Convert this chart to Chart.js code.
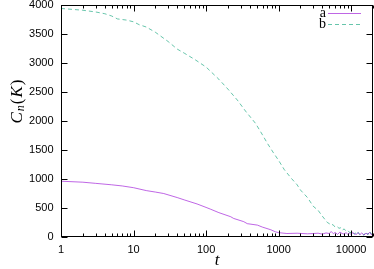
<!DOCTYPE html>
<html>
<head>
<meta charset="utf-8">
<script src="https://cdn.jsdelivr.net/npm/chart.js@4"></script>
<style>
html,body{margin:0;padding:0;background:#fff;}
#wrap{width:374px;height:269px;position:relative;}
</style>
</head>
<body>
<div id="wrap"><canvas id="c" width="374" height="269"></canvas></div>
<script>
// ---- data ----
const seriesNames = ["a", "b"];
const tA = [1,2,3,5,7,10,15,20,26,40,50,75,100,115,150,218,240,330,370,510,600,780,900,1000,1300,1800,2500,3000,3500,4000,4500,5000,5300,5700,6000,6500,7000,7500,8000,8500,9000,9500,10000,10500,11000,11800,12500,13200,14000,15000,16000,17000,18000,19000,20000];
const valuesA = [962,945,925,900,880,850,800,775,750,680,640,570,510,480,420,350,320,265,230,205,170,125,90,75,60,65,55,60,65,50,70,60,95,55,80,45,85,60,50,75,45,70,40,80,55,45,75,40,70,35,65,45,80,40,55];
const tB = [1,2,3,4,5,6,8,10,12,15,20,30,40,50,70,100,150,200,270,350,480,600,700,850,1000,1200,1500,1800,2000,2500,3000,3500,4000,4700,5000,5300,5600,6000,6400,6800,7200,7600,8000,8500,9000,9500,10000,10500,11000,11500,12000,12500,13000,14000,15000,16000,17000,18000,19000,20000];
const valuesB = [3940,3910,3880,3850,3810,3760,3740,3710,3660,3620,3530,3370,3240,3170,3060,2930,2720,2550,2360,2170,1960,1760,1615,1450,1320,1160,1010,900,810,680,530,460,360,250,230,200,215,170,180,150,160,120,140,100,110,80,75,90,50,70,40,80,45,60,30,90,40,100,50,70];
const xTicks = [1,10,100,1000,10000];
const yTicks = [0,500,1000,1500,2000,2500,3000,3500,4000];
const xMin = 1, xMax = 20000, yMin = 0, yMax = 4000;
const colors = ["rgba(148,0,211,0.6)", "rgba(0,158,115,0.6)"];

const pts = (ts, vs) => ts.map((t,i)=>({x:t,y:vs[i]}));

const framePlugin = {
  id: 'frame',
  afterDraw(chart){
    const ctx = chart.ctx, a = chart.chartArea;
    const xs = chart.scales.x, ys = chart.scales.y;
    ctx.save();
    ctx.strokeStyle = '#000';
    ctx.lineWidth = 1;
    const L = Math.round(a.left)+0.5, R = Math.round(a.right)-0.5, T = Math.round(a.top)+0.5, B = Math.round(a.bottom)-0.5;
    ctx.strokeRect(L, T, R-L, B-T);
    ctx.beginPath();
    for (let d = 1; d <= xMax; d *= 10) {
      for (let m = 1; m <= 9; m++) {
        const v = d*m;
        if (v < xMin || v > xMax) continue;
        const px = Math.round(xs.getPixelForValue(v))+0.5;
        const len = m === 1 ? 6 : 3;
        ctx.moveTo(px, B); ctx.lineTo(px, B-len);
        ctx.moveTo(px, T); ctx.lineTo(px, T+len);
      }
    }
    yTicks.forEach(v=>{
      const py = Math.round(ys.getPixelForValue(v))+0.5;
      ctx.moveTo(L, py); ctx.lineTo(L+6, py);
      ctx.moveTo(R, py); ctx.lineTo(R-6, py);
    });
    ctx.stroke();
    ctx.fillStyle = '#000';
    ctx.font = '11px "Liberation Sans", Arial, sans-serif';
    ctx.textAlign = 'center'; ctx.textBaseline = 'middle';
    xTicks.forEach(v=>{
      ctx.fillText(String(v), xs.getPixelForValue(v), B+13);
    });
    ctx.textAlign = 'right';
    yTicks.forEach(v=>{
      ctx.fillText(String(v), L-8, ys.getPixelForValue(v));
    });
    ctx.font = 'italic 17px "Liberation Serif", "DejaVu Serif", serif';
    ctx.textAlign = 'center'; ctx.textBaseline = 'middle';
    ctx.fillText('t', (L+R)/2, 261);
    ctx.save();
    ctx.translate(18, 101);
    ctx.rotate(-Math.PI/2);
    const parts = [
      {s:'C', f:'italic 17px "Liberation Serif", serif', dy:0},
      {s:'n', f:'italic 12px "Liberation Serif", serif', dy:3},
      {s:'(', f:'17px "Liberation Serif", serif', dy:0},
      {s:'K', f:'italic 17px "Liberation Serif", serif', dy:0},
      {s:')', f:'17px "Liberation Serif", serif', dy:0}
    ];
    let w = 0;
    parts.forEach(p=>{ctx.font=p.f; p.w=ctx.measureText(p.s).width; w+=p.w+1;});
    let x = -w/2;
    ctx.textAlign = 'left'; ctx.textBaseline = 'middle';
    parts.forEach(p=>{ctx.font=p.f; ctx.fillText(p.s, x, p.dy); x += p.w+1;});
    ctx.restore();
    ctx.font = '14px "Liberation Serif", "DejaVu Serif", serif';
    ctx.textAlign = 'right'; ctx.textBaseline = 'middle';
    chart.data.datasets.forEach((ds,i)=>{
      const y = 13.5 + i*11;
      ctx.fillStyle = '#000';
      ctx.fillText(ds.label, 326, y);
      ctx.strokeStyle = ds.borderColor;
      ctx.setLineDash(ds.borderDash || []);
      ctx.beginPath(); ctx.moveTo(328, y); ctx.lineTo(361, y); ctx.stroke();
    });
    ctx.setLineDash([]);
    ctx.restore();
  }
};

new Chart(document.getElementById('c'), {
  type: 'line',
  data: {
    datasets: [
      {label: seriesNames[0], data: pts(tA, valuesA), borderColor: colors[0], borderWidth: 1, pointRadius: 0, fill: false, tension: 0},
      {label: seriesNames[1], data: pts(tB, valuesB), borderColor: colors[1], borderWidth: 1, borderDash: [4,3], pointRadius: 0, fill: false, tension: 0}
    ]
  },
  options: {
    responsive: false,
    animation: false,
    layout: {padding: {left: 61, right: 1, top: 5, bottom: 32}},
    plugins: {legend: {display: false}, tooltip: {enabled: false}},
    scales: {
      x: {type: 'logarithmic', min: xMin, max: xMax, display: false},
      y: {type: 'linear', min: yMin, max: yMax, display: false}
    }
  },
  plugins: [framePlugin]
});
</script>
</body>
</html>
